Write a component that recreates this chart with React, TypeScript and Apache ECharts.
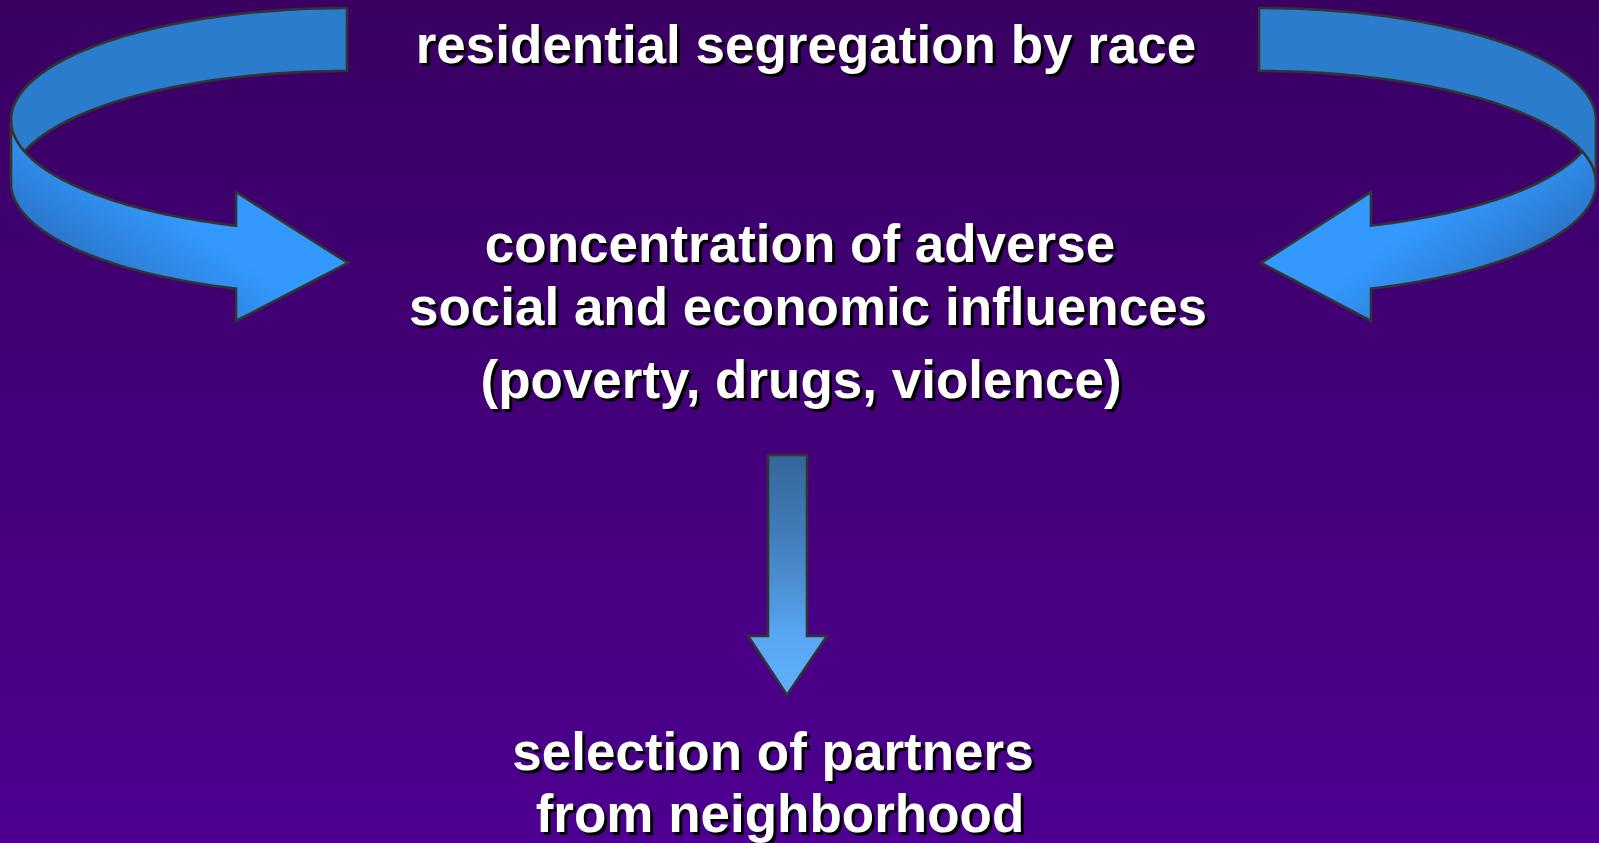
import React, { useEffect, useRef } from "react";
import * as echarts from "echarts";

// Diagram texts (top to bottom)
const textLines: string[] = [
  "residential segregation by race",
  "concentration of adverse",
  "social and economic influences",
  "(poverty, drugs, violence)",
  "selection of partners",
  "from neighborhood",
];

// layout
const W = 1599;
const H = 843;
const textCenterX = [806, 800, 808, 801, 773, 780];
const textBaseline = [63, 262, 325, 398, 770, 832];
const FONT_SIZE = 53;
const FONT = `bold ${FONT_SIZE}px "Liberation Sans", Arial, Helvetica, sans-serif`;

type ArrowCfg = {
  cx: number; s: number; rx: number; ry: number; cy1: number; cy2: number;
  baseX: number; tipX: number; tipY: number; headTop: number; headBottom: number;
};

function ribbon(cfg: ArrowCfg) {
  const { cx, s, rx, ry, cy1, cy2, baseX, tipX, tipY, headTop, headBottom } = cfg;
  const N = 80;
  const up = (cy: number, a: number) => [cx + s * rx * Math.sin(a), cy - ry * Math.cos(a)];
  const lo = (cy: number, a: number) => [cx + s * rx * Math.sin(a), cy + ry * Math.cos(a)];
  const back: number[][] = [];
  for (let i = 0; i <= N; i++) back.push(up(cy1, (i / N) * Math.PI / 2));
  for (let i = N; i >= 0; i--) back.push(up(cy2, (i / N) * Math.PI / 2));
  const aEnd = Math.asin(Math.abs(baseX - cx) / rx);
  const front: number[][] = [];
  const angAt = (i: number) => Math.PI / 2 - (Math.PI / 2 - aEnd) * (i / N);
  for (let i = 0; i <= N; i++) front.push(lo(cy1, angAt(i)));
  front.push([baseX, headTop]);
  front.push([tipX, tipY]);
  front.push([baseX, headBottom]);
  for (let i = N; i >= 0; i--) front.push(lo(cy2, angAt(i)));
  return { back, front };
}

const leftArrow: ArrowCfg = {
  cx: 347, s: -1, rx: 336, ry: 112, cy1: 120, cy2: 183,
  baseX: 236, tipX: 348, tipY: 263, headTop: 192, headBottom: 321,
};
const rightArrow: ArrowCfg = {
  cx: 1259, s: 1, rx: 337, ry: 112, cy1: 120, cy2: 183,
  baseX: 1371, tipX: 1261, tipY: 263, headTop: 192, headBottom: 321,
};

const STROKE = "#333333";
const BACK_FILL = "#2b7ccd";

export default function App() {
  const ref = useRef<HTMLDivElement>(null);
  useEffect(() => {
    if (!ref.current) return;
    const chart = echarts.init(ref.current, undefined, { renderer: "svg" });
    const L = ribbon(leftArrow);
    const R = ribbon(rightArrow);
    const frontGradL = new echarts.graphic.LinearGradient(0.05, 0.7, 0.6, 0.25, [
      { offset: 0, color: "#2868b8" },
      { offset: 0.35, color: "#2e84de" },
      { offset: 0.7, color: "#3399ff" },
      { offset: 1, color: "#3399ff" },
    ]);
    const frontGradR = new echarts.graphic.LinearGradient(0.95, 0.7, 0.4, 0.25, [
      { offset: 0, color: "#2868b8" },
      { offset: 0.35, color: "#2e84de" },
      { offset: 0.7, color: "#3399ff" },
      { offset: 1, color: "#3399ff" },
    ]);
    const downGrad = new echarts.graphic.LinearGradient(0, 0, 0, 1, [
      { offset: 0, color: "#34659a" },
      { offset: 0.4, color: "#4582c0" },
      { offset: 0.75, color: "#58a6f2" },
      { offset: 1, color: "#60b0ff" },
    ]);
    const bgGrad = new echarts.graphic.LinearGradient(0, 0, 0, 1, [
      { offset: 0, color: "#390062" },
      { offset: 1, color: "#4d0090" },
    ]);

    const downArrow = [
      [768, 455], [807, 455], [807, 636], [827, 636], [787, 695], [748, 636], [768, 636],
    ];

    const texts: any[] = [];
    textLines.forEach((t, i) => {
      const yMid = textBaseline[i] - 0.3465 * FONT_SIZE;
      texts.push({
        type: "text", z: 3, x: textCenterX[i] + 3, y: yMid + 3,
        style: { text: t, fill: "#000000", font: FONT, textAlign: "center", align: "center", textVerticalAlign: "middle", verticalAlign: "middle" },
      });
      texts.push({
        type: "text", z: 4, x: textCenterX[i], y: yMid,
        style: { text: t, fill: "#ffffff", font: FONT, textAlign: "center", align: "center", textVerticalAlign: "middle", verticalAlign: "middle" },
      });
    });

    const shapeStyle = (fill: any) => ({ fill, stroke: STROKE, lineWidth: 2.6, lineJoin: "miter" });

    chart.setOption({
      animation: false,
      graphic: {
        elements: [
          { type: "rect", z: 0, shape: { x: 0, y: 0, width: W, height: H }, style: { fill: bgGrad } },
          // left: back band below front band
          { type: "polygon", z: 1, shape: { points: L.back }, style: shapeStyle(BACK_FILL) },
          { type: "polygon", z: 2, shape: { points: L.front }, style: shapeStyle(frontGradL) },
          // right: front band below back band
          { type: "polygon", z: 1, shape: { points: R.front }, style: shapeStyle(frontGradR) },
          { type: "polygon", z: 2, shape: { points: R.back }, style: shapeStyle(BACK_FILL) },
          { type: "polygon", z: 1, shape: { points: downArrow }, style: shapeStyle(downGrad) },
          ...texts,
        ],
      },
    });
    return () => chart.dispose();
  }, []);
  return (
    <div
      ref={ref}
      style={{ position: "fixed", left: 0, top: 0, width: W, height: H }}
    />
  );
}
